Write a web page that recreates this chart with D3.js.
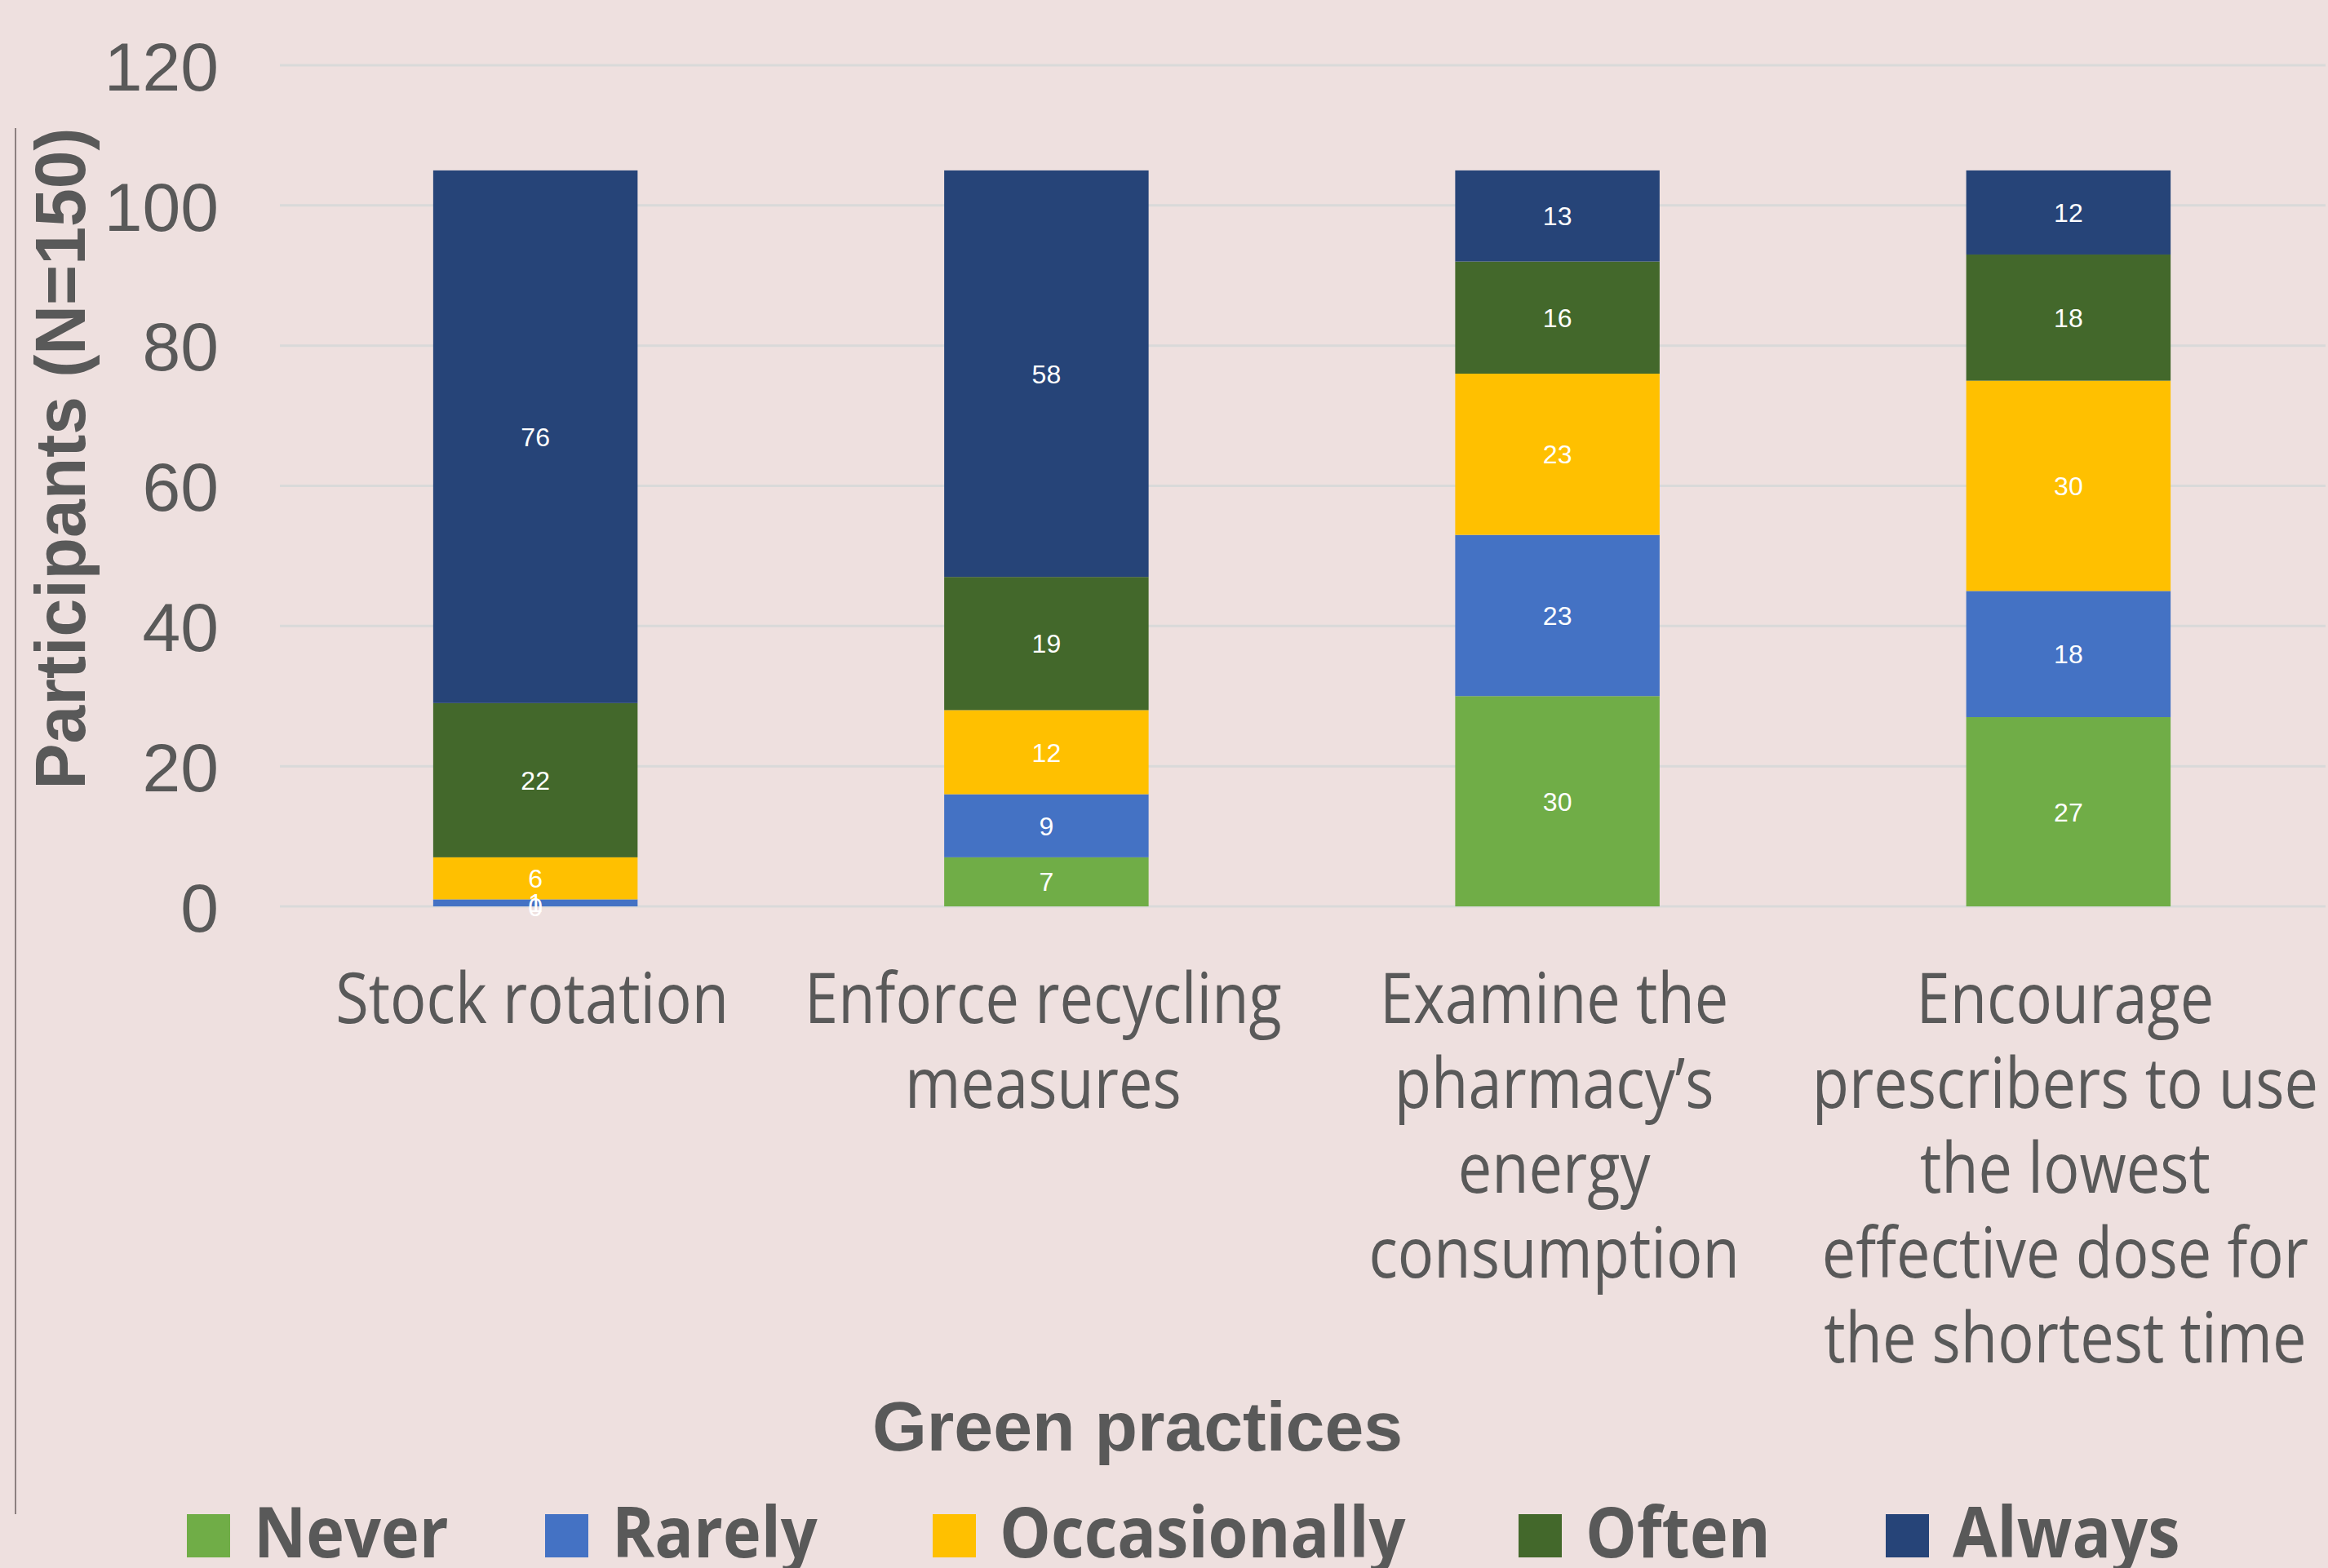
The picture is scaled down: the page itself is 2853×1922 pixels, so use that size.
<!DOCTYPE html>
<html>
<head>
<meta charset="utf-8">
<script src="https://cdn.jsdelivr.net/npm/d3@7"></script>
<style>
    body { margin: 0; background: #eee0df; }
    svg { display: block; }
</style>
</head>
<body>
<svg id="chart"></svg>
<script>
// chart data
var categories = ["Stock rotation", "Enforce recycling measures", "Examine the pharmacy’s energy consumption",
    "Encourage prescribers to use the lowest effective dose for the shortest time"];
var categoryLines = [
    ["Stock rotation"],
    ["Enforce recycling", "measures"],
    ["Examine the", "pharmacy’s", "energy", "consumption"],
    ["Encourage", "prescribers to use", "the lowest", "effective dose for", "the shortest time"]
];
var seriesNames = ["Never", "Rarely", "Occasionally", "Often", "Always"];
var never = [0, 7, 30, 27];
var rarely = [1, 9, 23, 18];
var occasionally = [6, 12, 23, 30];
var often = [22, 19, 16, 18];
var always = [76, 58, 13, 12];
var yTicks = [0, 20, 40, 60, 80, 100, 120];

var colors = ["#70ad47", "#4472c4", "#ffc000", "#43682b", "#264478"];

var width = 2853;
var height = 1922;
var svg = d3.select("#chart").attr("width", width).attr("height", height);

svg.append("rect").attr("width", width).attr("height", height).attr("fill", "#eee0df");

var rows = categories.map(function (c, i) {
    return {cat: c, Never: never[i], Rarely: rarely[i], Occasionally: occasionally[i], Often: often[i], Always: always[i]};
});

var x = d3.scaleBand().domain(categories).range([343, 2848]).paddingInner(0.6).paddingOuter(0.3);
var y = d3.scaleLinear().domain([0, 120]).range([1111, 80]);

// grid lines
svg.append("g")
    .selectAll("line")
    .data(yTicks)
    .enter()
    .append("line")
    .attr("x1", 343)
    .attr("x2", 2850)
    .attr("y1", function (d) { return y(d); })
    .attr("y2", function (d) { return y(d); })
    .attr("stroke", "#d9d9d9")
    .attr("stroke-width", 3);

// y axis labels
var yAxis = d3.axisLeft(y).tickValues(yTicks).tickSize(0).tickPadding(0);
var yg = svg.append("g").attr("transform", "translate(268,0)").call(yAxis);
yg.select(".domain").remove();
yg.selectAll("text")
    .attr("fill", "#595959")
    .style("font-family", "'Liberation Sans', Arial, sans-serif")
    .style("font-size", "84px")
    .attr("dy", "0.36em");

// stacked bars
var stack = d3.stack().keys(seriesNames);
var series = stack(rows);

var layer = svg.append("g")
    .selectAll("g")
    .data(series)
    .enter()
    .append("g")
    .attr("fill", function (d, i) { return colors[i]; });

layer.selectAll("rect")
    .data(function (d) { return d; })
    .enter()
    .append("rect")
    .attr("x", function (d) { return x(d.data.cat); })
    .attr("width", x.bandwidth())
    .attr("y", function (d) { return y(d[1]); })
    .attr("height", function (d) { return y(d[0]) - y(d[1]); });

// value labels
series.forEach(function (s) {
    svg.append("g")
        .selectAll("text")
        .data(s)
        .enter()
        .append("text")
        .attr("x", function (d) { return x(d.data.cat) + x.bandwidth() / 2; })
        .attr("y", function (d) { return y((d[0] + d[1]) / 2); })
        .attr("dy", "0.36em")
        .attr("text-anchor", "middle")
        .attr("fill", "#ffffff")
        .style("font-family", "'Liberation Sans', Arial, sans-serif")
        .style("font-size", "32px")
        .text(function (d) { return d[1] - d[0]; });
});

// category labels
var catGroup = svg.append("g")
    .selectAll("g")
    .data(categories)
    .enter()
    .append("g")
    .attr("transform", function (d) { return "translate(" + (x(d) + x.bandwidth() / 2 - 4) + ",1254) scale(0.86,1)"; });

catGroup.each(function (d, i) {
    d3.select(this).selectAll("text")
        .data(categoryLines[i])
        .enter()
        .append("text")
        .attr("y", function (t, j) { return j * 104; })
        .attr("text-anchor", "middle")
        .attr("fill", "#595959")
        .style("font-family", "'Open Sans', 'Noto Sans', sans-serif")
        .style("font-size", "86px")
        .text(function (t) { return t; });
});

// axis titles
svg.append("text")
    .attr("x", 1394)
    .attr("y", 1778)
    .attr("text-anchor", "middle")
    .attr("fill", "#595959")
    .style("font-family", "'Liberation Sans', Arial, sans-serif")
    .style("font-weight", "bold")
    .style("font-size", "86px")
    .text("Green practices");

svg.append("text")
    .attr("transform", "translate(104,562) rotate(-90)")
    .attr("text-anchor", "middle")
    .attr("fill", "#595959")
    .attr("textLength", 811)
    .attr("lengthAdjust", "spacingAndGlyphs")
    .style("font-family", "'Liberation Sans', Arial, sans-serif")
    .style("font-weight", "bold")
    .style("font-size", "87px")
    .text("Participants (N=150)");

// left border line
svg.append("line")
    .attr("x1", 19).attr("x2", 19)
    .attr("y1", 157).attr("y2", 1856)
    .attr("stroke", "#8c8080")
    .attr("stroke-width", 2);

// legend
var legendX = [229, 668, 1143, 1861, 2311];
var legend = svg.append("g")
    .selectAll("g")
    .data(seriesNames)
    .enter()
    .append("g")
    .attr("transform", function (d, i) { return "translate(" + legendX[i] + ",1856)"; });

legend.append("rect")
    .attr("width", 53)
    .attr("height", 53)
    .attr("fill", function (d, i) { return colors[i]; });

legend.append("text")
    .attr("transform", "translate(82,53) scale(0.92,1)")
    .attr("fill", "#595959")
    .style("font-family", "'Open Sans', 'Noto Sans', sans-serif")
    .style("font-weight", "bold")
    .style("font-size", "86px")
    .text(function (d) { return d; });
</script>
</body>
</html>
